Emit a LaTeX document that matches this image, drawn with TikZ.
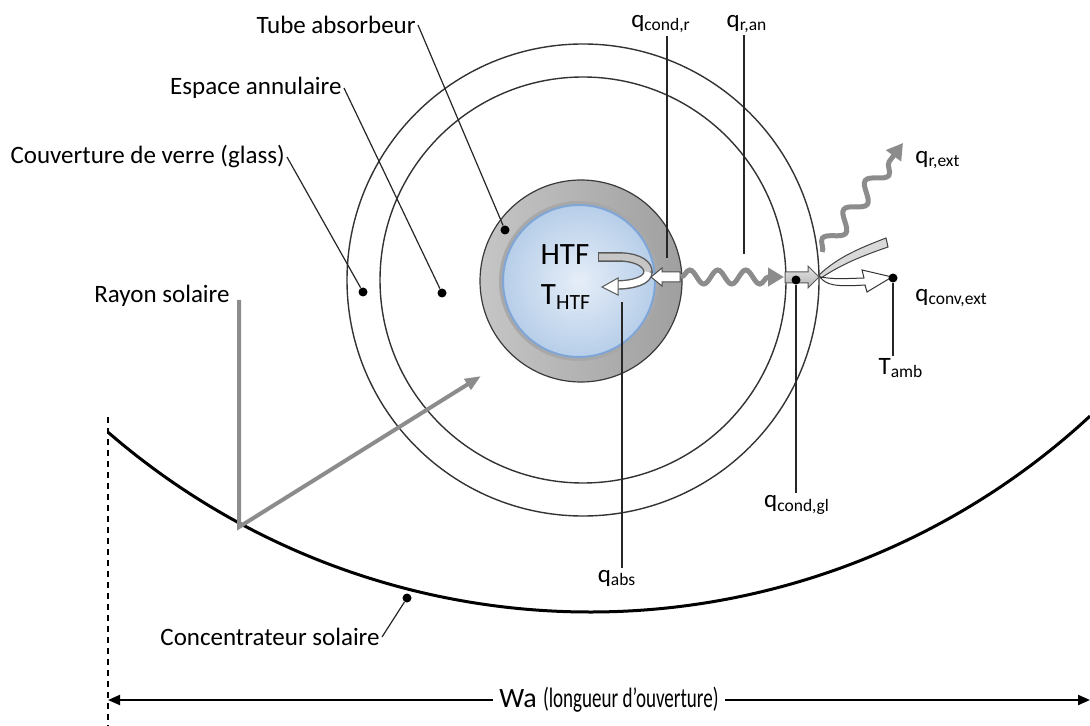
\documentclass[tikz,border=0pt]{standalone}
\usepackage{fontspec}
\setmainfont{Carlito}
\usepackage{tikz}
\usetikzlibrary{arrows.meta}
\usetikzlibrary{decorations.pathmorphing}
\usepackage{xcolor}

\definecolor{raygray}{HTML}{8C8C8C}
\definecolor{htfin}{HTML}{E6EEF8}
\definecolor{htfout}{HTML}{B7CEE9}
\definecolor{htfline}{HTML}{7FA6D6}

\begin{document}
\begin{tikzpicture}[x = 0.5pt, y = -0.5pt, font = \fontsize{12.5}{15}\selectfont,
    lbl/.style = {inner sep = 1pt},
    leader/.style = {line width = 0.6pt, black!85},
    dot/.style = {circle, fill = black, inner sep = 0pt, minimum size = 4.5pt},
    glassline/.style = {line width = 0.7pt, black!80},
    heat/.style = {line width = 2.5pt, raygray, -{Triangle[length = 8pt, width = 9pt]},
        decorate, decoration = {snake, amplitude = 3.5pt, segment length = 14pt, post length = 5pt}}]

    \useasboundingbox (0,0) rectangle (1090,726);

    % tube en verre et tube absorbeur
    \begin{scope}
        \draw[glassline] (583,280) circle (236);
        \draw[glassline] (583,280) circle (203);

        \shade[left color = gray!45, right color = gray!75, draw = gray!45!black, line width = 0.6pt] (581,281) circle (101);
        \fill[gray!68] (579,281) circle (80);
        \shade[inner color = htfin, outer color = htfout, draw = htfline, line width = 1pt] (579,281) circle (76);

        \node[font = \fontsize{15.5}{18}\selectfont] (htf) at (565,255) {HTF};
        \node[font = \fontsize{15.5}{18}\selectfont] (thtf) at (566,297) {T\textsubscript{HTF}};

        % circulation du fluide
        \draw[line width = 4.8pt, black!65] (598,257) -- (622,257) .. controls (640,258) and (648,265) .. (648,272)
            .. controls (648,280) and (635,285) .. (615,285);
        \draw[line width = 3.4pt, gray!45] (599,257) -- (622,257) .. controls (640,258) and (648,265) .. (648,272);
        \draw[line width = 3.4pt, white] (648,272) .. controls (648,280) and (635,285) .. (614,285);
        \filldraw[fill = white, draw = black!65, line width = 0.5pt] (602,287) -- (618,278) -- (618,295) -- cycle;
    \end{scope}

    % flux de chaleur
    \begin{scope}
        \filldraw[fill = white, draw = black!70, line width = 0.5pt]
            (651,277) -- (662,268) -- (662,272) -- (680,272) -- (680,282) -- (662,282) -- (662,286) -- cycle;
        \draw[heat] (681,277) -- (784,277);
        \shade[top color = gray!20, bottom color = gray!60, draw = gray!70!black, line width = 0.5pt]
            (785,272) -- (808,272) -- (808,266) -- (819,277) -- (808,288) -- (808,283) -- (785,283) -- cycle;
        \draw[heat, decoration = {snake, amplitude = 4pt, segment length = 18pt, post length = 5pt}] (822,252) -- (903,143);
        \filldraw[fill = gray!30, draw = gray!50!black, line width = 0.5pt]
            (819,275) .. controls (838,257) and (860,248) .. (886,238) -- (888,247)
            .. controls (862,256) and (842,264) .. (821,278) -- cycle;
        \filldraw[fill = white, draw = black!80, line width = 0.5pt]
            (820,277) .. controls (835,279) .. (864,278) -- (862,270) -- (892,277) -- (867,292) -- (865,285)
            .. controls (835,287) and (826,285) .. (820,277) -- cycle;
    \end{scope}

    % concentrateur et rayon
    \draw[line width = 1.5pt] plot[domain = 108:1090, samples = 80, smooth] (\x, {-124 + 100*sqrt(54.17 - ((\x - 590)/100)^2)});
    \draw[dashed, dash pattern = on 3pt off 2.5pt, line width = 0.8pt] (108,417) -- (108,726);

    \coordinate (raytop) at (239,300);
    \coordinate (rayhit) at (239,527);
    \coordinate (rayend) at (481,376);
    \draw[line width = 2pt, raygray, -{Triangle[length = 8pt, width = 6pt]}] (raytop) -- (rayhit) -- (rayend);

    % points
    \node[dot] (dtube) at (505,230) {};
    \node[dot] (dannul) at (442,293) {};
    \node[dot] (dglass) at (363,292) {};
    \node[dot] (dconc) at (407,598) {};
    \node[dot] (dgl) at (796,280) {};
    \node[dot] (damb) at (893,278) {};

    % etiquettes
    \node[lbl, anchor = east] (tube) at (418,25) {Tube absorbeur};
    \node[lbl, anchor = east] (annul) at (344,88) {Espace annulaire};
    \node[lbl, anchor = east] (glass) at (287,157) {Couverture de verre (glass)};
    \node[lbl, anchor = east] (rayon) at (232,296) {Rayon solaire};
    \node[lbl, anchor = east] (conc) at (382,637) {Concentrateur solaire};

    \node[lbl] (qcr) at (661,24) {q\textsubscript{cond,r}};
    \node[lbl] (qran) at (747,24) {q\textsubscript{r,an}};
    \node[lbl, anchor = west] (qrext) at (913,160) {q\textsubscript{r,ext}};
    \node[lbl, anchor = west] (qconv) at (913,298) {q\textsubscript{conv,ext}};
    \node[lbl] (tamb) at (901,368) {T\textsubscript{amb}};
    \node[lbl] (qgl) at (797,505) {q\textsubscript{cond,gl}};
    \node[lbl] (qabs) at (617,578) {q\textsubscript{abs}};

    \coordinate (ecr) at (667,258);
    \coordinate (eran) at (744,254);
    \coordinate (eabs) at (622,302);

    \draw[leader] (tube.east) -- (dtube);
    \draw[leader] (annul.east) -- (dannul);
    \draw[leader] (glass.east) -- (dglass);
    \draw[leader] (conc.east) -- (dconc);
    \draw[leader] (ecr |- qcr.south) -- (ecr);
    \draw[leader] (eran |- qran.south) -- (eran);
    \draw[leader] (eabs) -- (eabs |- qabs.north);
    \draw[leader] (dgl) -- (dgl |- qgl.north);
    \draw[leader] (damb) -- (damb |- tamb.north);

    % longueur d'ouverture
    \node[inner sep = 3pt] (wa) at (609,700) {\fontsize{14}{16}\selectfont Wa \scalebox{0.68}[1]{(longueur d’ouverture)}};
    \draw[line width = 1pt, {Triangle[length = 6pt, width = 5pt]}-] (108,700) -- (wa.west);
    \draw[line width = 1pt, -{Triangle[length = 6pt, width = 5pt]}] (wa.east) -- (1090,700);

\end{tikzpicture}
\end{document}
